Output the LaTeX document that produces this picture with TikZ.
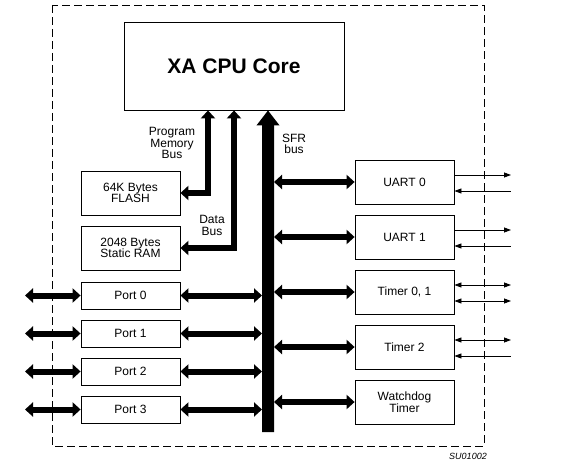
\documentclass[tikz,border=0pt]{standalone}
\usepackage{fontspec}
\setmainfont{Liberation Sans}
\tikzset{every picture/.style={/utils/exec={\fontsize{12bp}{11.5bp}\selectfont}}}
\usetikzlibrary{positioning}
\usetikzlibrary{arrows.meta}
\tikzset{
  bustip/.tip={Triangle[length=8bp,width=14bp]},
  sigtip/.tip={Triangle[length=7bp,width=5bp]},
  blk/.style={draw, line width=0.8bp, minimum width=99bp, minimum height=44bp, align=center, inner sep=1bp},
  portblk/.style={blk, minimum height=27bp},
  bus/.style={line width=6bp, bustip-bustip},
  sig/.style={line width=0.8bp},
}

\begin{document}
\begin{tikzpicture}[x=1bp, y=-1bp, node distance=10.2bp]
  \useasboundingbox (0,0) rectangle (566,463);
  \draw [dash pattern=on 8bp off 4bp, line width=0.8bp] (52,5) rectangle (484,446);

  \node [blk, minimum width=220bp, minimum height=88bp,
         font=\fontsize{21bp}{21bp}\bfseries\selectfont] (cpu) at (234,66) {XA CPU Core};

  \node [blk] (flash) at (130.5,193) {64K Bytes\\FLASH};
  \node [blk, below=of flash] (ram) {2048 Bytes\\Static RAM};

  \node [portblk] (p0) at (130.5,295.5) {Port 0};
  \node [portblk, below=of p0] (p1) {Port 1};
  \node [portblk, below=of p1] (p2) {Port 2};
  \node [portblk, below=of p2] (p3) {Port 3};

  \node [blk] (u0) at (404.5,182) {UART 0};
  \node [blk, below=of u0] (u1) {UART 1};
  \node [blk, below=of u1] (t01) {Timer 0, 1};
  \node [blk, below=of t01] (t2) {Timer 2};
  \node [blk, below=of t2] (wd) {Watchdog\\Timer};

  \node [align=center] (pmlabel) at (172,143) {Program\\Memory\\Bus};
  \node [align=center] (dlabel) at (212,225.5) {Data\\Bus};
  \node [align=center] (sfrlabel) at (294,144) {SFR\\bus};
  \node [font=\fontsize{9bp}{9bp}\itshape\selectfont] (code) at (468,456) {SU01002};

  \coordinate (sfrB) at (268,432);
  \coordinate (sfrL) at (262,432);
  \coordinate (sfrR) at (274,432);
  \coordinate (pinL) at (25,0);
  \coordinate (pinR) at (511,0);

  % SFR bus
  \draw [line width=12bp, -{Triangle[length=15bp,width=22bp]}] (sfrB) -- ([xshift=34bp]cpu.south);

  % memory buses
  \draw [bus] (flash.east) -| ([xshift=-26bp]cpu.south);
  \draw [bus] (ram.east) -| (cpu.south);

  \foreach \p in {p0,p1,p2,p3} {
    \draw [bus] (\p.west -| pinL) -- (\p.west);
    \draw [bus] (\p.east) -- (\p.east -| sfrL);
  }
  \foreach \r in {u0,u1,t01,t2,wd}
    \draw [bus] (sfrR |- \r.west) -- (\r.west);

  % pins
  \draw [sig, -sigtip] ([yshift=7bp]u0.east) -- ([yshift=7bp]u0.east -| pinR);
  \draw [sig, sigtip-] ([yshift=-9bp]u0.east) -- ([yshift=-9bp]u0.east -| pinR);
  \draw [sig, -sigtip] ([yshift=7bp]u1.east) -- ([yshift=7bp]u1.east -| pinR);
  \draw [sig, sigtip-] ([yshift=-9bp]u1.east) -- ([yshift=-9bp]u1.east -| pinR);
  \draw [sig, sigtip-sigtip] ([yshift=7bp]t01.east) -- ([yshift=7bp]t01.east -| pinR);
  \draw [sig, sigtip-sigtip] ([yshift=-9bp]t01.east) -- ([yshift=-9bp]t01.east -| pinR);
  \draw [sig, sigtip-sigtip] ([yshift=7bp]t2.east) -- ([yshift=7bp]t2.east -| pinR);
  \draw [sig, sigtip-] ([yshift=-9bp]t2.east) -- ([yshift=-9bp]t2.east -| pinR);
\end{tikzpicture}
\end{document}
